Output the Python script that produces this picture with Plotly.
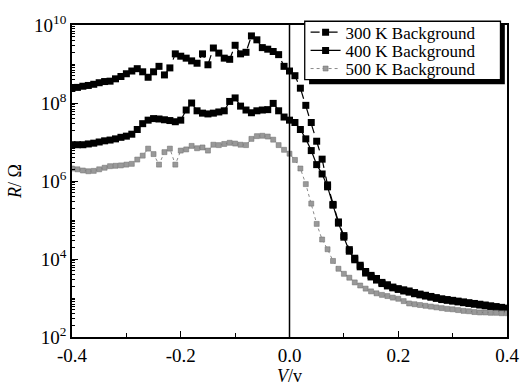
import plotly.graph_objects as go

# Bias voltage (V)
voltage = [-0.40, -0.39, -0.38, -0.37, -0.36, -0.35, -0.34, -0.33, -0.32, -0.31,
           -0.30, -0.29, -0.28, -0.27, -0.26, -0.25, -0.24, -0.23, -0.22, -0.21,
           -0.20, -0.19, -0.18, -0.17, -0.16, -0.15, -0.14, -0.13, -0.12, -0.11,
           -0.10, -0.09, -0.08, -0.07, -0.06, -0.05, -0.04, -0.03, -0.02, -0.01,
           0.00, 0.01, 0.02, 0.03, 0.04, 0.05, 0.06, 0.07, 0.08, 0.09,
           0.10, 0.11, 0.12, 0.13, 0.14, 0.15, 0.16, 0.17, 0.18, 0.19,
           0.20, 0.21, 0.22, 0.23, 0.24, 0.25, 0.26, 0.27, 0.28, 0.29,
           0.30, 0.31, 0.32, 0.33, 0.34, 0.35, 0.36, 0.37, 0.38, 0.39, 0.40]

# log10 of resistance (Ohm)
log_r_300k = [8.38, 8.40, 8.43, 8.45, 8.48, 8.52, 8.55, 8.56, 8.62, 8.68,
              8.75, 8.82, 8.88, 8.80, 8.66, 8.80, 8.94, 8.72, 8.90, 9.26,
              9.20, 9.15, 9.08, 9.02, 9.26, 8.98, 9.41, 9.28, 9.15, 9.12,
              9.48, 9.26, 9.30, 9.72, 9.62, 9.42, 9.38, 9.32, 9.24, 8.94,
              8.82, 8.70, 8.38, 7.94, 7.50, 7.02, 6.56, 5.90, 5.40, 4.95,
              4.60, 4.24, 4.02, 3.84, 3.68, 3.58, 3.50, 3.40, 3.34, 3.28,
              3.24, 3.21, 3.18, 3.14, 3.10, 3.07, 3.04, 3.01, 2.98, 2.96,
              2.94, 2.92, 2.90, 2.88, 2.86, 2.84, 2.82, 2.80, 2.78, 2.76, 2.74]

log_r_400k = [6.93, 6.93, 6.93, 6.95, 6.97, 7.00, 7.03, 7.05, 7.08, 7.12,
              7.15, 7.20, 7.32, 7.47, 7.56, 7.60, 7.59, 7.57, 7.55, 7.52,
              7.56, 7.82, 8.00, 7.80, 7.74, 7.72, 7.74, 7.77, 7.80, 8.04,
              8.13, 7.92, 7.82, 7.75, 7.80, 7.82, 7.83, 7.99, 7.80, 7.64,
              7.56, 7.50, 7.32, 7.08, 6.78, 6.42, 6.18, 5.85, 5.38, 4.92,
              4.56, 4.20, 3.98, 3.80, 3.64, 3.54, 3.46, 3.37, 3.31, 3.26,
              3.22, 3.18, 3.15, 3.11, 3.08, 3.05, 3.02, 2.99, 2.96, 2.94,
              2.92, 2.90, 2.88, 2.86, 2.84, 2.82, 2.80, 2.78, 2.76, 2.74, 2.72]

log_r_500k = [6.32, 6.30, 6.27, 6.25, 6.26, 6.30, 6.34, 6.38, 6.39, 6.40,
              6.42, 6.44, 6.55, 6.65, 6.83, 6.69, 6.42, 6.74, 6.83, 6.42,
              6.78, 6.81, 6.90, 6.84, 6.86, 6.78, 6.93, 6.92, 6.95, 6.98,
              6.96, 6.93, 6.92, 7.08, 7.15, 7.16, 7.14, 7.06, 6.92, 6.80,
              6.70, 6.54, 6.32, 5.92, 5.42, 4.90, 4.50, 4.25, 3.95, 3.75,
              3.62, 3.52, 3.40, 3.32, 3.24, 3.17, 3.12, 3.08, 3.05, 3.01,
              2.98, 2.92, 2.86, 2.84, 2.82, 2.80, 2.78, 2.76, 2.74, 2.72,
              2.71, 2.69, 2.67, 2.66, 2.64, 2.63, 2.63, 2.62, 2.62, 2.61, 2.61]

series_names = ["300 K Background", "400 K Background", "500 K Background"]

x_ticks = [-0.4, -0.2, 0.0, 0.2, 0.4]
x_ticktext = ["-0.4", "-0.2", "0.0", "0.2", "0.4"]
y_ticks = [1e2, 1e4, 1e6, 1e8, 1e10]
y_ticktext = ["10<sup>2</sup>", "10<sup>4</sup>", "10<sup>6</sup>", "10<sup>8</sup>", "10<sup>10</sup>"]

FONT = "Liberation Serif, Times New Roman, serif"

def to_r(logs):
    return [10 ** v for v in logs]

fig = go.Figure()
fig.add_trace(go.Scatter(
    x=voltage, y=to_r(log_r_300k), name=series_names[0], mode="lines+markers",
    legend="legend",
    line=dict(color="black", width=1.2, dash="dash"),
    marker=dict(symbol="square", size=7, color="black")))
fig.add_trace(go.Scatter(
    x=voltage, y=to_r(log_r_400k), name=series_names[1], mode="lines+markers",
    legend="legend2",
    line=dict(color="black", width=1.2),
    marker=dict(symbol="square", size=7, color="black")))
fig.add_trace(go.Scatter(
    x=voltage, y=to_r(log_r_500k), name=series_names[2], mode="lines+markers",
    legend="legend3",
    line=dict(color="#8a8a8a", width=1, dash="dot"),
    marker=dict(symbol="square", size=5, color="#999999",
                line=dict(color="#6a6a6a", width=0.5))))

# vertical line at V = 0
fig.add_shape(type="line", xref="x", yref="paper", x0=0, x1=0, y0=0, y1=1,
              line=dict(color="black", width=1.5), layer="above")

# legend frame with drop shadow
fig.add_shape(type="rect", xref="paper", yref="paper",
              x0=0.545, x1=0.995, y0=0.810, y1=1.0,
              fillcolor="black", line=dict(color="black", width=0), layer="above")
fig.add_shape(type="rect", xref="paper", yref="paper",
              x0=0.535, x1=0.985, y0=0.825, y1=1.012,
              fillcolor="white", line=dict(color="black", width=1.3), layer="above")

leg_common = dict(x=0.537, xanchor="left", yanchor="middle",
                  bgcolor="rgba(255,255,255,0)", borderwidth=0,
                  font=dict(family=FONT, size=17, color="black"),
                  tracegroupgap=0, itemsizing="trace")

fig.update_layout(
    width=531, height=390,
    margin=dict(l=72, r=20, t=17, b=47),
    paper_bgcolor="white", plot_bgcolor="white",
    font=dict(family=FONT, size=19, color="black"),
    showlegend=True,
    legend=dict(y=0.9755, **leg_common),
    legend2=dict(y=0.917, **leg_common),
    legend3=dict(y=0.859, **leg_common),
)

fig.update_xaxes(
    range=[-0.4, 0.4], tickvals=x_ticks, ticktext=x_ticktext,
    ticks="inside", ticklen=6, tickwidth=1.2, tickcolor="black",
    showline=True, linecolor="black", linewidth=1.8, mirror=True,
    showgrid=False, zeroline=False,
    minor=dict(dtick=0.1, ticks="inside", ticklen=4, tickcolor="black", showgrid=False),
    tickfont=dict(family=FONT, size=19, color="black"),
    title=dict(text="<i>V</i>/v", font=dict(family=FONT, size=18, color="black"), standoff=0),
)
fig.update_yaxes(
    type="log", range=[2, 10], tickvals=y_ticks, ticktext=y_ticktext,
    ticks="inside", ticklen=6, tickwidth=1.2, tickcolor="black",
    showline=True, linecolor="black", linewidth=1.8, mirror=True,
    showgrid=False, zeroline=False,
    minor=dict(dtick="D1", ticks="inside", ticklen=3, tickcolor="black", showgrid=False),
    tickfont=dict(family=FONT, size=19, color="black"),
    title=dict(text="<i>R</i>/ Ω", font=dict(family=FONT, size=18, color="black"), standoff=8),
)

fig.write_html("out.html")
